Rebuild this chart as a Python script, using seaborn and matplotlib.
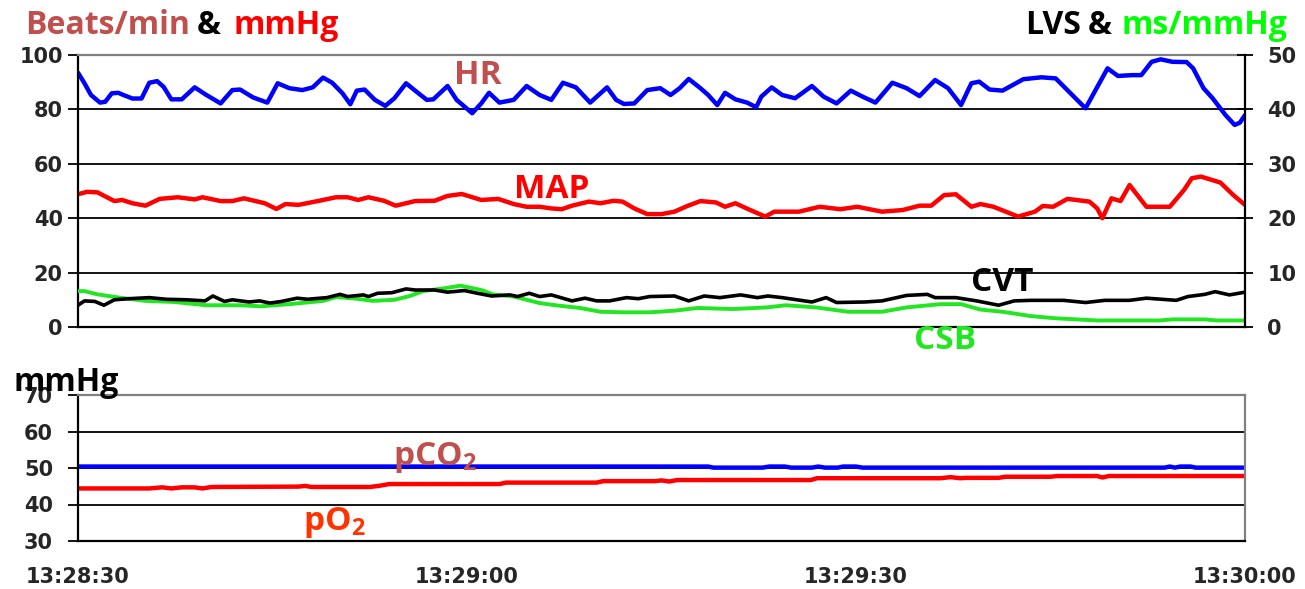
import matplotlib
matplotlib.use("Agg")
import numpy as np
import pandas as pd
import matplotlib.pyplot as plt
import seaborn as sns

# seconds after 13:28:30
hr_t = [0, 0.5, 1.0, 1.7, 2.1, 2.6, 3.1, 3.5, 4.2, 4.9, 5.5, 6.1, 6.6, 7.2, 8.0, 9.0, 9.9, 11.0, 11.9, 12.5,
        13.5, 14.6, 15.4, 16.3, 17.3, 18.1, 18.9, 19.6, 20.4, 21.0, 21.5, 22.1, 22.9, 23.7, 24.4, 25.3, 26.0, 26.9,
        27.4, 28.5, 29.2, 30.4, 31.1, 31.7, 32.5, 33.6, 34.6, 35.6, 36.5, 37.4, 38.4, 39.5, 40.8, 41.5, 42.1, 42.9,
        43.9, 44.9, 45.7, 46.4, 47.1, 48.0, 48.6, 49.3, 49.9, 50.7, 51.6, 52.3, 52.7, 53.5, 54.3, 55.3, 56.6, 57.5,
        58.5, 59.6, 60.5, 61.5, 62.8, 63.9, 64.9, 66.1, 67.1, 68.1, 68.9, 69.5, 70.3, 71.3, 72.9, 74.3, 75.4, 77.7,
        79.4, 80.2, 81.3, 82.0, 82.8, 83.5, 84.4, 85.5, 86.0, 86.8, 87.5, 88.5, 89.2, 89.6, 90.0]
hr = [93.5, 89.6, 85.3, 82.5, 82.8, 85.9, 86.1, 85.3, 84.0, 84.0, 89.8, 90.4, 88.3, 83.7, 83.7, 88.1, 85.3, 82.2,
      87.1, 87.3, 84.4, 82.5, 89.6, 87.8, 87.1, 88.1, 91.7, 89.8, 85.9, 81.9, 86.9, 87.3, 83.5, 81.3, 84.1, 89.6,
      86.9, 83.5, 83.7, 88.6, 83.5, 78.6, 82.2, 86.1, 82.5, 83.5, 88.6, 85.3, 83.5, 89.8, 88.1, 82.5, 88.1, 83.5,
      82.0, 82.2, 87.1, 87.8, 85.3, 87.8, 91.2, 87.8, 85.3, 81.6, 86.1, 83.7, 82.5, 80.8, 84.7, 88.1, 85.3, 84.1,
      88.6, 84.7, 82.2, 86.9, 84.7, 82.5, 89.8, 87.8, 84.9, 90.8, 87.8, 81.6, 89.6, 90.2, 87.3, 86.9, 91.1, 91.8,
      91.4, 80.4, 95.1, 92.3, 92.6, 92.6, 97.5, 98.4, 97.5, 97.4, 95.1, 87.8, 84.1, 77.9, 74.3, 75.1, 77.9]

map_t = [0, 0.7, 1.5, 2.8, 3.4, 4.2, 5.2, 6.3, 7.7, 9.0, 9.6, 11.0, 11.9, 12.8, 14.4, 15.3, 16.0, 17.0, 18.6,
         19.9, 20.8, 21.6, 22.4, 23.6, 24.5, 26.0, 27.5, 28.5, 29.6, 31.1, 32.4, 33.6, 34.6, 35.6, 36.5, 37.3, 38.1,
         39.4, 40.3, 41.3, 42.0, 42.9, 43.9, 45.0, 46.0, 47.0, 48.0, 49.2, 49.9, 50.7, 51.7, 53.0, 53.7, 55.6, 57.2,
         58.8, 60.1, 62.0, 63.6, 64.9, 65.8, 66.8, 67.7, 68.9, 69.6, 70.6, 72.5, 73.8, 74.4, 75.2, 75.7, 76.3, 78.0,
         78.6, 79.0, 79.7, 80.4, 81.1, 81.6, 82.4, 84.2, 85.3, 85.9, 86.6, 88.1, 89.1, 90.0]
map_ = [48.8, 49.7, 49.5, 46.3, 46.7, 45.5, 44.6, 47.1, 47.7, 46.9, 47.7, 46.3, 46.3, 47.3, 45.5, 43.4, 45.2, 44.9,
        46.4, 47.7, 47.7, 46.7, 47.7, 46.4, 44.6, 46.3, 46.4, 48.2, 48.9, 46.7, 47.1, 45.2, 44.2, 44.2, 43.6, 43.3,
        44.6, 46.1, 45.5, 46.4, 46.1, 43.6, 41.5, 41.5, 42.4, 44.5, 46.3, 45.8, 44.2, 45.5, 43.3, 40.6, 42.4, 42.4,
        44.2, 43.3, 44.2, 42.4, 43.0, 44.6, 44.6, 48.5, 48.8, 44.2, 45.2, 44.2, 40.6, 42.4, 44.5, 44.2, 45.5, 47.1,
        46.1, 43.6, 40.0, 47.3, 46.3, 52.2, 49.1, 44.2, 44.2, 50.4, 54.7, 55.3, 53.1, 48.5, 44.9]

# right axis (LVS & ms/mmHg)
cvt_t = [0, 0.5, 1.3, 2.0, 2.8, 3.9, 5.5, 6.8, 8.4, 9.8, 10.4, 11.3, 11.9, 13.2, 14.0, 14.8, 15.7, 16.9, 17.7,
         19.2, 20.2, 20.8, 22.0, 22.4, 23.1, 24.2, 25.3, 26.0, 27.5, 28.5, 29.8, 30.8, 31.9, 33.3, 33.9, 34.8, 35.6,
         36.5, 38.1, 39.1, 40.0, 41.0, 42.3, 43.2, 44.1, 46.0, 47.1, 48.3, 49.5, 51.1, 52.4, 53.2, 54.3, 56.6, 57.7,
         58.5, 60.7, 62.0, 63.9, 65.5, 66.1, 67.7, 69.3, 71.0, 72.2, 73.5, 76.0, 77.7, 79.2, 81.1, 82.4, 84.7, 85.6,
         86.9, 87.7, 88.8, 90.0]
cvt = [4.0, 4.8, 4.7, 4.0, 5.0, 5.2, 5.4, 5.1, 5.0, 4.8, 5.7, 4.7, 5.0, 4.6, 4.8, 4.4, 4.7, 5.3, 5.1, 5.4,
       6.0, 5.6, 5.9, 5.6, 6.2, 6.3, 7.0, 6.8, 6.8, 6.4, 6.7, 6.2, 5.7, 5.9, 5.6, 6.2, 5.6, 5.9, 4.8, 5.3,
       4.8, 4.8, 5.4, 5.2, 5.6, 5.7, 4.8, 5.7, 5.4, 5.9, 5.4, 5.7, 5.4, 4.6, 5.4, 4.5, 4.6, 4.8, 5.8, 6.0,
       5.4, 5.4, 4.8, 4.0, 4.8, 4.9, 4.9, 4.5, 4.9, 4.9, 5.3, 4.9, 5.6, 6.0, 6.5, 5.9, 6.4]

csb_t = [0, 0.5, 1.5, 3.2, 5.2, 7.4, 9.9, 12.5, 14.1, 16.3, 18.9, 19.9, 21.5, 22.7, 24.4, 25.6, 26.6, 28.2, 29.5,
         31.1, 32.0, 33.6, 35.6, 36.8, 38.7, 40.3, 42.0, 44.1, 46.0, 47.8, 50.5, 53.1, 54.6, 56.9, 59.4, 62.0, 63.9,
         66.5, 68.1, 69.6, 71.3, 73.5, 75.4, 78.6, 83.4, 84.4, 86.9, 87.8, 90.0]
csb = [6.6, 6.6, 6.0, 5.4, 4.8, 4.6, 4.0, 4.0, 3.8, 4.2, 4.8, 5.5, 5.2, 4.8, 5.0, 5.7, 6.6, 7.1, 7.6, 6.8,
       6.0, 5.6, 4.4, 4.0, 3.5, 2.8, 2.7, 2.7, 3.0, 3.5, 3.3, 3.6, 4.0, 3.6, 2.8, 2.8, 3.6, 4.2, 4.2, 3.2,
       2.8, 2.0, 1.6, 1.2, 1.2, 1.4, 1.4, 1.2, 1.2]

# bottom panel (mmHg)
pco2_t = [0, 48.6, 49.0, 52.8, 53.3, 54.5, 55.0, 56.6, 57.1, 57.6, 58.6, 59.0, 60.0, 60.5, 83.8, 84.2, 84.6,
          85.0, 85.8, 86.2, 90.0]
pco2 = [50.4, 50.4, 50.1, 50.1, 50.4, 50.4, 50.1, 50.1, 50.4, 50.1, 50.1, 50.4, 50.4, 50.1, 50.1, 50.4, 50.1,
        50.4, 50.4, 50.1, 50.1]
po2_t = [0, 5.5, 6.5, 7.2, 8.0, 9.0, 9.6, 10.3, 17.0, 17.5, 18.0, 22.5, 23.2, 24.0, 32.5, 33.0, 40.0, 40.5,
         44.5, 45.0, 45.6, 46.2, 56.5, 57.0, 66.5, 67.3, 68.0, 68.5, 71.0, 71.5, 75.0, 75.5, 78.6, 79.0, 79.5, 90.0]
po2 = [44.4, 44.4, 44.7, 44.4, 44.7, 44.7, 44.4, 44.8, 44.9, 45.1, 44.8, 44.8, 45.1, 45.6, 45.6, 46.0, 46.0, 46.4,
       46.4, 46.6, 46.3, 46.7, 46.7, 47.2, 47.2, 47.5, 47.2, 47.3, 47.3, 47.6, 47.6, 47.8, 47.8, 47.4, 47.8, 47.8]

time_ticks = [0, 30, 60, 90]
time_labels = ["13:28:30", "13:29:00", "13:29:30", "13:30:00"]

BROWN = "#C0504D"
GREEN = "#22E622"

sns.set_theme(style="white")
plt.rcParams["font.family"] = ["DejaVu Sans"]
plt.rcParams["font.weight"] = "bold"

W, H = 1305, 589
fig = plt.figure(figsize=(W / 100, H / 100), dpi=100)
fig.patch.set_facecolor("white")

x0, x1 = 78, 1245
ax1 = fig.add_axes([x0 / W, 1 - 327 / H, (x1 - x0) / W, (327 - 55) / H])
ax2 = ax1.twinx()
ax3 = fig.add_axes([x0 / W, 1 - 541 / H, (x1 - x0) / W, (541 - 395) / H])

lw_kw = dict(estimator=None, sort=False, solid_joinstyle="round", solid_capstyle="round")
sns.lineplot(x=hr_t, y=hr, ax=ax1, color="#0000FF", linewidth=3.2, **lw_kw)
sns.lineplot(x=map_t, y=map_, ax=ax1, color="#FF0000", linewidth=3.2, **lw_kw)
sns.lineplot(x=csb_t, y=csb, ax=ax2, color=GREEN, linewidth=2.8, **lw_kw)
sns.lineplot(x=cvt_t, y=cvt, ax=ax2, color="black", linewidth=2.6, **lw_kw)
sns.lineplot(x=pco2_t, y=pco2, ax=ax3, color="#0000FF", linewidth=3.2, **lw_kw)
sns.lineplot(x=po2_t, y=po2, ax=ax3, color="#FF0000", linewidth=3.2, **lw_kw)

for ax in (ax1, ax3):
    ax.set_xlim(0, 90)
    ax.set_xticks(time_ticks)
    ax.set_xticks([10, 20, 40, 50, 70, 80], minor=True)
    ax.tick_params(axis="x", which="major", direction="inout", length=14, width=1.3, color="black")
    ax.tick_params(axis="x", which="minor", direction="out", length=5, width=1.3, color="black")
    ax.tick_params(axis="y", direction="out", length=7, width=1.3, color="black", left=True)
    ax.grid(False)
    ax.yaxis.grid(True, color="black", linewidth=1.3)
    ax.set_axisbelow(True)
    ax.spines["left"].set_color("black")
    ax.spines["left"].set_linewidth(1.6)
    ax.spines["bottom"].set_color("black")
    ax.spines["bottom"].set_linewidth(1.6)
    ax.spines["top"].set_color("#808080")
    ax.spines["top"].set_linewidth(1.6)
    ax.set_xlabel("")
    ax.set_ylabel("")

ax1.set_ylim(0, 100)
ax1.set_yticks(np.arange(0, 101, 20))
ax1.tick_params(axis="x", labelbottom=False)
ax1.tick_params(axis="y", pad=4, labelsize=15)
ax1.spines["right"].set_visible(False)

ax2.set_ylim(0, 50)
ax2.set_yticks(np.arange(0, 51, 10))
ax2.grid(False)
ax2.tick_params(axis="y", direction="inout", length=12, width=1.3, color="black", right=True, pad=10,
                labelsize=15)
for s in ("left", "top", "bottom"):
    ax2.spines[s].set_visible(False)
ax2.spines["right"].set_color("black")
ax2.spines["right"].set_linewidth(1.6)
ax2.set_ylabel("")

ax3.set_ylim(30, 70)
ax3.set_yticks(np.arange(30, 71, 10))
ax3.set_xticklabels(time_labels)
ax3.tick_params(axis="x", which="major", pad=12, labelsize=15)
ax3.tick_params(axis="y", pad=11, labelsize=15)
ax3.spines["right"].set_color("#808080")
ax3.spines["right"].set_linewidth(1.6)

for lab in ax1.get_yticklabels() + ax2.get_yticklabels() + ax3.get_yticklabels() + ax3.get_xticklabels():
    lab.set_fontweight("bold")

# series labels
lbl = dict(family="Open Sans", fontweight="bold", fontsize=24, ha="center", va="center", clip_on=False)
ax1.text(30.8, 92.3, "HR", color=BROWN, **lbl)
ax1.text(36.5, 50.7, "MAP", color="#FF0000", **lbl)
ax1.text(71.3, 16.2, "CVT", color="black", **lbl)
ax1.text(66.9, -4.8, "CSB", color=GREEN, **lbl)
ax3.text(27.5, 53.0, r"pCO$_\mathregular{2}$", color=BROWN, **lbl)
ax3.text(19.8, 35.2, r"pO$_\mathregular{2}$", color="#FF3300", **lbl)

# axis titles
ttl = dict(family="Open Sans", fontweight="bold", fontsize=23, va="baseline")
yb = 1 - 34 / H
fig.text(25 / W, yb, "Beats/min", color=BROWN, **ttl)
fig.text(197 / W, yb, "&", color="black", **ttl)
fig.text(234 / W, yb, "mmHg", color="#FF0000", **ttl)
fig.text(1025 / W, yb, "LVS", color="black", **ttl)
fig.text(1088 / W, yb, "&", color="black", **ttl)
fig.text(1122 / W, yb, "ms/mmHg", color="#00FF00", **ttl)
fig.text(14 / W, 1 - 391 / H, "mmHg", color="black", **ttl)

fig.savefig("out.png", dpi=100, facecolor="white")
